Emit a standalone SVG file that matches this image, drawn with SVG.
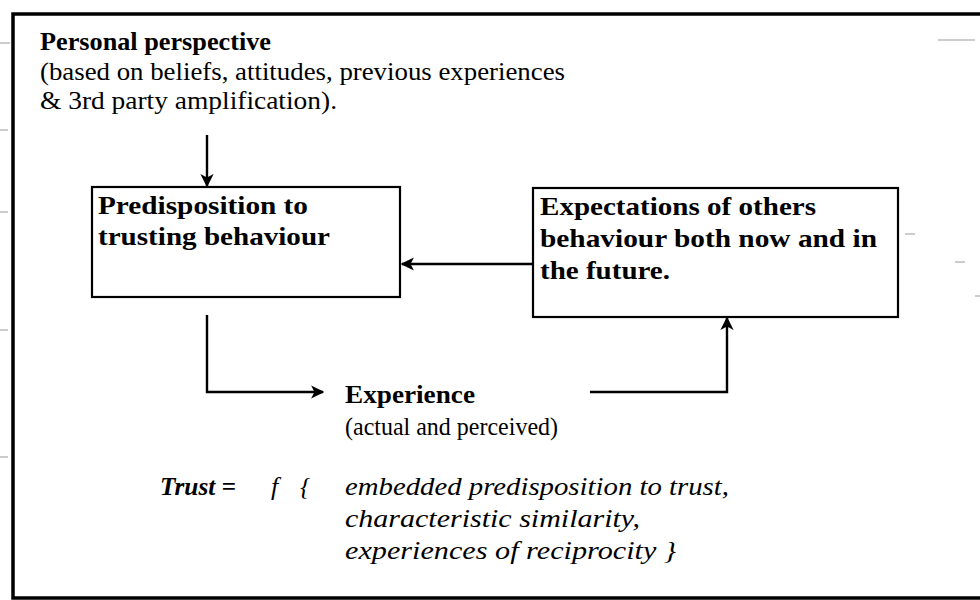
<svg xmlns="http://www.w3.org/2000/svg" width="980" height="600" viewBox="0 0 980 600" font-family="'Liberation Serif', Tinos, 'Times New Roman', serif">
  <style>
    text { font-family: "Liberation Serif", Tinos, "Times New Roman", serif; fill: #000; font-size: 26px; }
    .b { font-weight: bold; }
    .i { font-style: italic; }
    .box { fill: #fff; stroke: #000; stroke-width: 2.2; }
    .wire { fill: none; stroke: #000; stroke-width: 2.4; }
    .frame { fill: none; stroke: #000; stroke-width: 3.5; }
    .tick { stroke: #999; stroke-width: 1; }
  </style>
  <defs>
    <marker id="head" viewBox="0 0 10 10" refX="9" refY="5" markerWidth="5.5" markerHeight="5.5" orient="auto" markerUnits="strokeWidth">
      <path d="M0,0 L10,5 L0,10 L2.5,5 z" fill="#000"/>
    </marker>
  </defs>
  <rect width="980" height="600" fill="#fff"/>

  <!-- outer frame: left, top and bottom edges -->
  <path class="frame" d="M980,14 L13,14 L13,598 L980,598"/>

  <!-- faint margin marks -->
  <g id="marks">
    <line class="tick" x1="0" y1="43" x2="10" y2="43"/>
    <line class="tick" x1="0" y1="130" x2="8" y2="130"/>
    <line class="tick" x1="0" y1="212" x2="8" y2="212"/>
    <line class="tick" x1="0" y1="330" x2="8" y2="330"/>
    <line class="tick" x1="0" y1="457" x2="8" y2="457"/>
    <line class="tick" x1="938" y1="40" x2="975" y2="40"/>
    <line class="tick" x1="905" y1="234" x2="915" y2="234"/>
    <line class="tick" x1="955" y1="262" x2="965" y2="262"/>
    <line class="tick" x1="975" y1="296" x2="980" y2="296"/>
  </g>

  <!-- free-standing source text -->
  <g id="perspective">
    <text class="b" x="40" y="50" textLength="231" lengthAdjust="spacingAndGlyphs">Personal perspective</text>
    <text x="40" y="80" textLength="525" lengthAdjust="spacingAndGlyphs">(based on beliefs, attitudes, previous experiences</text>
    <text x="40" y="109" textLength="297" lengthAdjust="spacingAndGlyphs">&amp; 3rd party amplification).</text>
  </g>

  <g id="predisposition">
    <rect class="box" x="92" y="187" width="308" height="110"/>
    <text class="b" x="98" y="214" textLength="210" lengthAdjust="spacingAndGlyphs">Predisposition to</text>
    <text class="b" x="98" y="245" textLength="232" lengthAdjust="spacingAndGlyphs">trusting behaviour</text>
  </g>

  <g id="expectations">
    <rect class="box" x="533" y="188" width="365" height="129"/>
    <text class="b" x="540" y="215" textLength="276" lengthAdjust="spacingAndGlyphs">Expectations of others</text>
    <text class="b" x="540" y="247" textLength="337" lengthAdjust="spacingAndGlyphs">behaviour both now and in</text>
    <text class="b" x="540" y="279" textLength="130" lengthAdjust="spacingAndGlyphs">the future.</text>
  </g>

  <g id="experience">
    <text class="b" x="345" y="403" textLength="130" lengthAdjust="spacingAndGlyphs">Experience</text>
    <text x="345" y="435" textLength="213" lengthAdjust="spacingAndGlyphs">(actual and perceived)</text>
  </g>

  <g id="formula">
    <text class="i b" x="160" y="495" textLength="76" lengthAdjust="spacingAndGlyphs">Trust =</text>
    <text class="i" x="271" y="495">f</text>
    <text class="i" x="300" y="495">{</text>
    <text class="i" x="345" y="495" textLength="384" lengthAdjust="spacingAndGlyphs">embedded predisposition to trust,</text>
    <text class="i" x="345" y="527" textLength="295" lengthAdjust="spacingAndGlyphs">characteristic similarity,</text>
    <text class="i" x="345" y="559" textLength="331" lengthAdjust="spacingAndGlyphs">experiences of reciprocity }</text>
  </g>

  <g id="connectors">
    <path class="wire" d="M207,135 L207,186" marker-end="url(#head)"/>
    <path class="wire" d="M533,264 L402,264" marker-end="url(#head)"/>
    <path class="wire" d="M207,315 L207,392 L323,392" marker-end="url(#head)"/>
    <path class="wire" d="M590,392 L727,392 L727,318" marker-end="url(#head)"/>
  </g>
</svg>
